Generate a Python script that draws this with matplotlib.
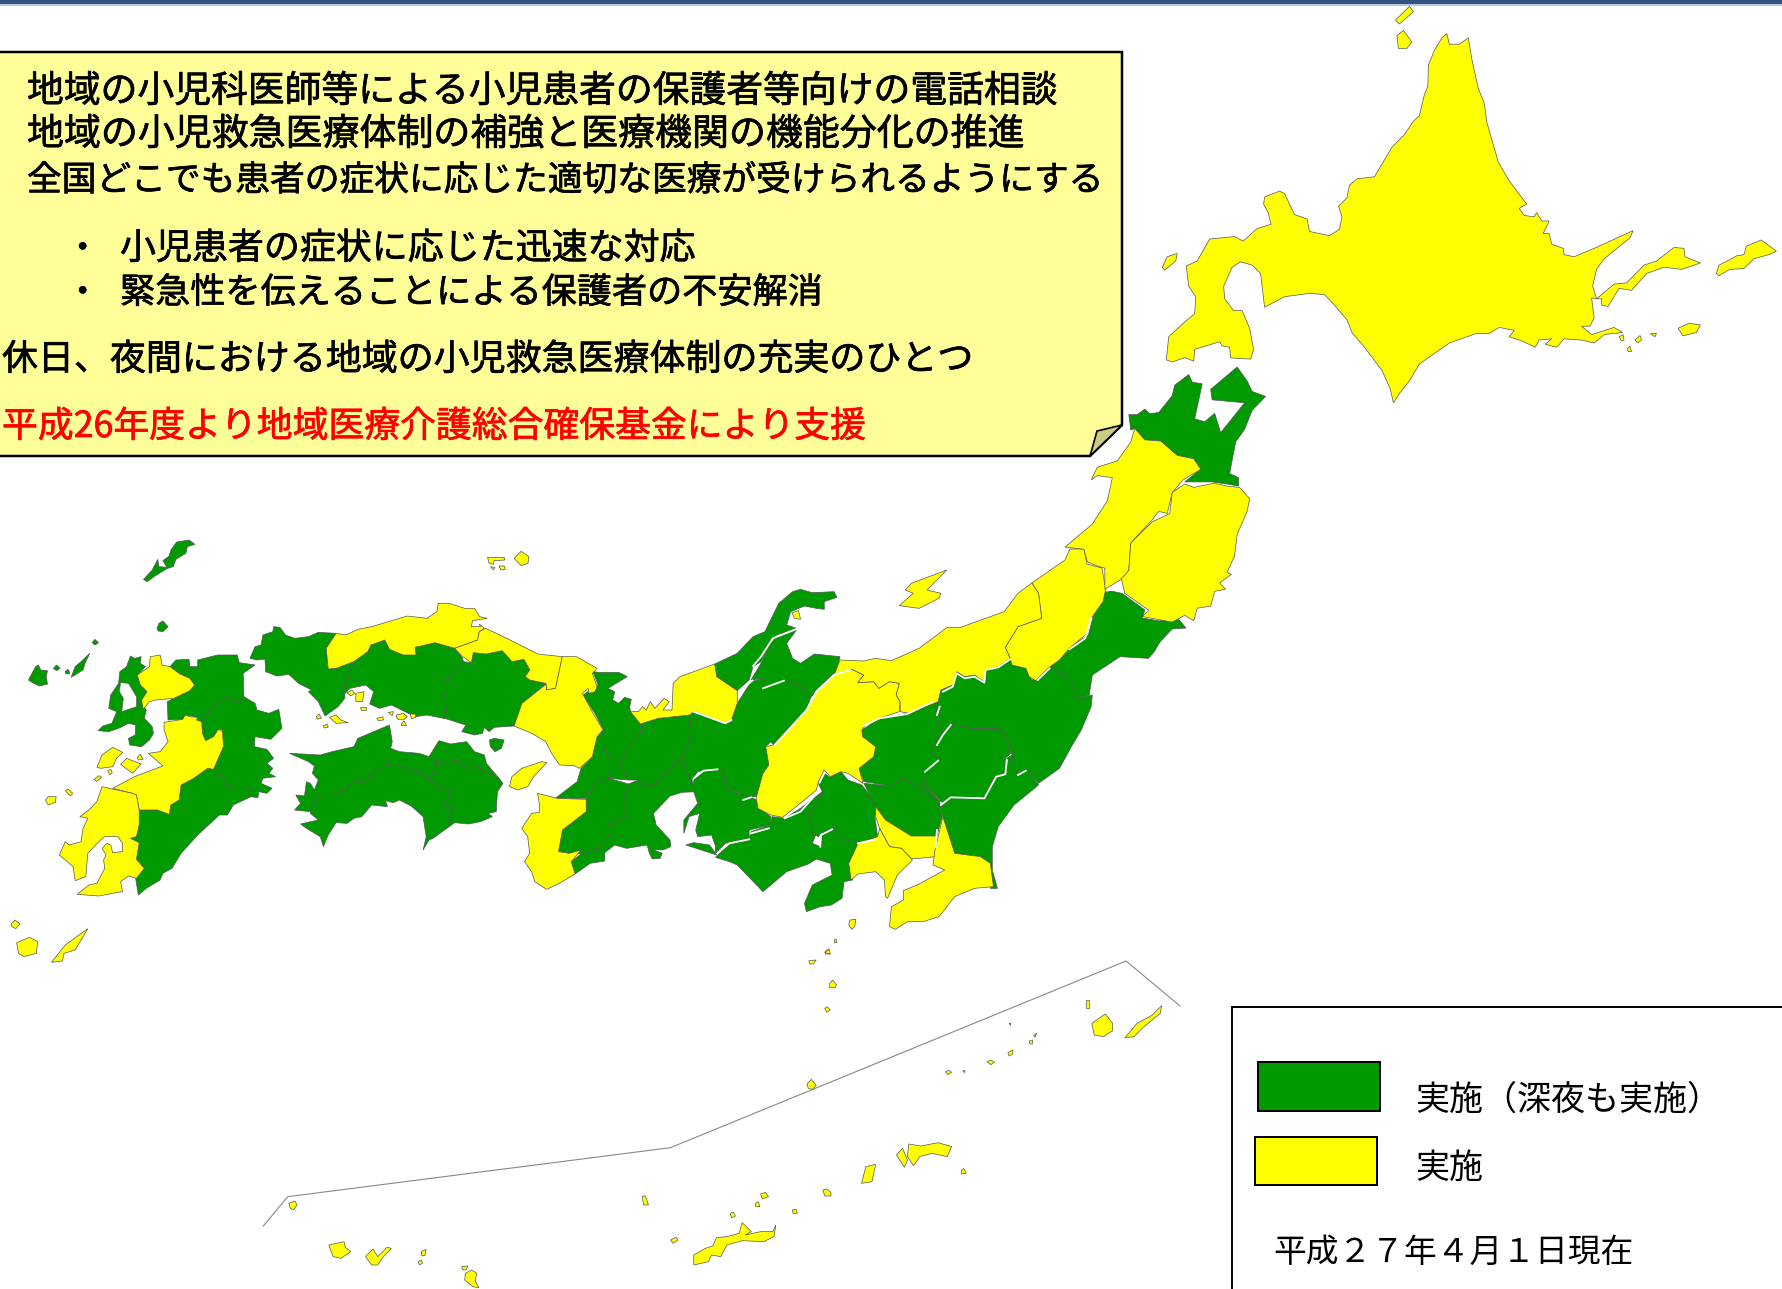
import matplotlib
matplotlib.use('Agg')
import matplotlib.pyplot as plt
import matplotlib.patheffects as pe
from matplotlib.patches import Polygon, Rectangle

plt.rcParams['font.family'] = ['Noto Sans CJK JP', 'DejaVu Sans']

GREEN = '#009900'
YELLOW = '#FFFF00'

# outlines read off the reference crops, each list in the units of its crop
# west = Kyushu, Shikoku, west Honshu
west_green = [
    [(363,178),(385,150),(399,118),(402,140),(422,142),(412,122),(428,108),(432,90),(447,66),(478,60),(493,73),(474,80),(470,100),(445,118),(438,140),(422,146),(392,168),(372,185)],
    [(397,325),(402,310),(412,303),(425,320),(412,335),(400,333)],
    [(72,480),(90,440),(97,435),(103,450),(120,452),(117,470),(120,492),(100,498),(85,490)],
    [(135,445),(143,435),(152,445),(143,452)],
    [(165,455),(172,448),(177,460),(167,462)],
    [(233,368),(240,358),(249,368),(240,375)],
    [(180,472),(190,440),(205,425),(227,400),(215,430),(210,450)],
    [(248,632),(260,618),(283,610),(295,575),(275,565),(280,525),(300,490),(303,455),(320,440),(330,408),(340,415),(357,410),(355,430),(368,440),(348,465),(355,495),(372,515),(360,550),(370,570),(365,595),(385,620),(388,640),(378,660),(358,680),(328,675),(325,655),(342,645),(343,615),(325,610),(300,625),(275,635)],
    [(430,440),(445,420),(478,418),(480,440),(500,440),(500,420),(550,405),(600,405),(605,428),(645,435),(615,460),(617,548),(605,548),(572,530),(540,560),(510,605),(497,600),(493,590),(470,585),(465,597),(425,600),(423,545),(440,535),(480,512),(492,495),(480,475),(455,462)],
    [(572,530),(605,548),(617,530),(645,550),(650,570),(680,580),(705,568),(713,625),(685,658),(645,650),(643,680),(675,688),(692,715),(675,730),(690,745),(680,760),(697,770),(665,775),(660,790),(688,805),(675,820),(655,815),(652,833),(635,830),(635,805),(575,800),(565,770),(540,748),(565,680),(563,630),(552,628),(540,650),(520,662),(512,640),(510,605),(540,560)],
    [(352,870),(398,870),(428,883),(432,855),(453,840),(458,795),(490,775),(525,745),(540,748),(565,770),(575,800),(635,805),(635,830),(590,855),(575,885),(555,885),(500,945),(458,1000),(435,1045),(412,1060),(405,1080),(370,1105),(350,1125),(343,1075),(365,1045),(345,1018),(352,968),(330,955),(345,950),(352,915)],
    [(632,415),(645,380),(660,375),(665,345),(690,335),(692,320),(708,322),(722,345),(745,355),(780,350),(805,337),(850,340),(825,385),(830,447),(850,445),(895,425),(885,450),(880,480),(872,490),(872,535),(855,560),(822,588),(805,545),(780,515),(788,510),(755,490),(730,463),(700,468),(672,455),(670,417),(650,420)],
    [(895,425),(930,395),(938,375),(973,360),(985,388),(1020,405),(1052,405),(1050,382),(1100,368),(1150,385),(1170,415),(1172,425),(1128,485),(1125,530),(1130,575),(1122,595),(1080,585),(1050,590),(990,555),(960,565),(935,552),(945,515),(925,495),(885,505),(873,520),(872,490),(880,480),(885,450)],
    [(1172,425),(1192,428),(1197,398),(1230,402),(1270,392),(1295,425),(1325,418),(1340,450),(1328,470),(1340,480),(1382,490),(1320,550),(1300,618),(1250,622),(1237,635),(1225,622),(1220,640),(1200,645),(1168,635),(1178,615),(1130,597),(1122,595),(1130,575),(1125,530),(1128,485)],
    [(1238,660),(1250,655),(1275,660),(1268,685),(1252,695),(1240,680)],
    [(732,700),(810,705),(840,695),(895,680),(905,655),(985,615),(992,665),(988,685),(1010,695),(1060,700),(1085,710),(1105,728),(1100,755),(1085,778),(1060,750),(1035,755),(1003,730),(975,735),(915,790),(905,780),(880,800),(850,825),(815,828),(795,848),(785,875),(745,870),(760,850),(748,825),(770,828),(775,785),(785,790),(795,810),(805,780),(790,760),(795,738),(780,725)],
    [(785,875),(795,848),(815,828),(850,825),(880,800),(905,780),(915,790),(975,735),(1003,730),(1035,755),(1060,750),(1085,778),(1115,805),(1143,812),(1122,855),(1145,865),(1130,925),(1095,955),(1085,960),(1070,990),(1078,950),(1070,890),(1040,858),(1010,840),(995,848),(975,842),(980,860),(940,855),(915,890),(895,895),(878,910),(850,908),(830,945),(818,980),(810,950),(775,925),(760,912),(805,900),(785,880)],
    [(1085,710),(1110,662),(1140,672),(1180,665),(1200,695),(1225,705),(1230,730),(1262,775),(1205,740),(1185,745),(1155,722),(1105,728)],
    [(1105,728),(1155,722),(1185,745),(1205,740),(1262,775),(1272,790),(1258,815),(1255,875),(1235,880),(1245,890),(1215,905),(1185,912),(1150,908),(1130,925),(1145,865),(1122,855),(1143,812),(1115,805),(1085,778),(1100,755)],
]
west_yellow = [
    [(347,465),(378,440),(380,410),(405,405),(410,435),(430,440),(455,462),(480,475),(492,495),(480,512),(440,535),(395,540),(378,545),(362,568),(358,540),(372,515),(355,495)],
    [(415,607),(462,598),(468,585),(480,590),(500,592),(497,600),(510,605),(512,640),(520,662),(540,650),(552,628),(563,635),(565,680),(540,748),(525,745),(490,775),(458,795),(453,840),(432,855),(428,883),(398,870),(352,870),(345,825),(335,820),(285,805),(340,770),(412,738),(375,700),(405,695),(425,665),(415,630)],
    [(258,800),(335,820),(345,825),(352,870),(352,915),(345,950),(330,955),(352,968),(345,1018),(365,1045),(345,1075),(325,1068),(305,1085),(310,1115),(285,1120),(250,1128),(195,1123),(225,1095),(245,1090),(265,1045),(262,1020),(268,1005),(258,985),(270,970),(280,975),(285,998),(310,995),(310,970),(298,950),(265,950),(250,965),(222,1000),(217,1070),(190,1082),(185,1040),(150,1005),(165,965),(175,975),(205,965),(210,925),(222,895),(202,890),(225,870),(245,845)],
    [(245,742),(258,705),(285,682),(310,697),(295,715),(285,740),(255,745)],
    [(305,733),(320,715),(357,732),(335,760)],
    [(347,712),(355,703),(362,718),(350,720)],
    [(272,752),(280,748),(284,758),(278,764)],
    [(238,778),(250,767),(257,772),(245,784)],
    [(165,812),(172,807),(184,820),(178,828)],
    [(115,840),(122,830),(142,830),(140,847),(122,855)],
    [(28,1212),(38,1200),(50,1212),(40,1226),(30,1220)],
    [(42,1268),(75,1252),(95,1265),(92,1300),(60,1310),(47,1300)],
    [(130,1327),(165,1275),(222,1226),(205,1260),(190,1290),(162,1300),(158,1323)],
    [(1233,112),(1275,112),(1277,120),(1250,122),(1247,133),(1237,130)],
    [(1300,115),(1318,94),(1338,110),(1335,130),(1318,137)],
    [(1240,140),(1252,142),(1248,150)],
    [(1262,138),(1275,138),(1278,148),(1267,150)],
    [(850,340),(875,345),(905,328),(940,320),(1030,288),(1080,295),(1105,275),(1108,250),(1135,250),(1175,265),(1200,265),(1213,290),(1232,295),(1195,302),(1192,320),(1215,320),(1212,312),(1225,325),(1212,335),(1208,360),(1150,385),(1100,368),(1050,382),(1052,405),(1020,405),(985,388),(973,360),(938,375),(930,395),(895,425),(850,445),(830,447),(825,385)],
    [(1150,385),(1208,360),(1212,335),(1228,325),(1255,340),(1290,360),(1360,402),(1422,410),(1405,505),(1382,510),(1380,490),(1340,480),(1328,470),(1340,450),(1325,418),(1295,425),(1270,392),(1230,402),(1197,398),(1192,428),(1170,410)],
    [(1422,410),(1458,410),(1510,445),(1498,460),(1510,500),(1505,515),(1490,520),(1487,505),(1473,520),(1500,580),(1525,630),(1510,650),(1498,710),(1465,745),(1452,737),(1415,735),(1395,700),(1380,665),(1345,640),(1300,618),(1320,550),(1382,492),(1382,510),(1405,505)],
    [(878,518),(890,510),(897,520),(887,528)],
    [(900,520),(920,515),(917,545),(900,545)],
    [(910,560),(925,560),(925,570),(912,570)],
    [(800,590),(807,582),(813,595),(802,597)],
    [(833,592),(850,585),(862,600),(880,608),(850,610)],
    [(817,618),(828,612),(830,622),(820,624)],
    [(953,595),(968,590),(970,600),(957,602)],
    [(982,577),(995,575),(992,587)],
    [(1002,585),(1020,580),(1030,590),(1020,600),(1005,597)],
    [(1038,582),(1050,582),(1052,592),(1040,596)],
    [(1015,612),(1022,603),(1028,617),(1015,617)],
]
omura_bay = [(305,488),(325,490),(345,530),(345,560),(308,575),(312,535),(302,515)]

# central = Kinki east to Tohoku south
central_green = [
    [(235,335),(250,337),(300,337),(322,350),(273,385),(290,395),(285,420),(300,430),(315,412),(332,418),(328,440),(330,455),(355,492),(355,520),(335,545),(305,610),(325,660),(275,655),(278,590),(258,565),(255,530),(262,510),(240,460),(210,405),(222,395),(235,400),(248,375)],
    [(262,510),(255,530),(258,565),(278,590),(275,655),(240,672),(218,715),(140,715),(195,665),(205,625),(235,590),(240,530)],
    [(218,718),(240,672),(275,655),(325,672),(312,730),(325,770),(280,790),(275,830),(245,870),(205,882),(175,880),(148,875),(158,810),(218,755)],
    [(355,492),(400,475),(480,465),(485,525),(460,595),(430,625),(400,668),(370,678),(350,660),(325,660),(305,610),(335,545),(355,520)],
    [(325,672),(350,660),(370,678),(400,668),(430,625),(460,595),(480,660),(497,695),(460,697),(430,708),(388,760),(395,795),(430,840),(432,860),(412,870),(385,868),(410,880),(405,895),(385,897),(378,880),(372,855),(320,865),(290,855),(265,878),(265,903),(228,910),(190,942),(180,905),(205,882),(245,870),(275,830),(280,790),(325,770),(312,730)],
    [(543,312),(600,280),(640,230),(670,215),(705,130),(740,95),(760,88),(790,98),(845,95),(852,112),(820,125),(820,148),(800,145),(770,138),(735,155),(725,195),(750,205),(700,225),(680,250),(660,305),(640,320),(630,360),(600,392),(548,350)],
    [(750,210),(725,250),(740,295),(760,310),(795,282),(860,290),(850,335),(840,345),(800,390),(785,415),(778,410),(760,378),(720,362),(665,385),(665,355),(635,360),(660,310),(680,255),(700,230)],
    [(480,465),(490,458),(570,490),(585,485),(600,430),(635,365),(665,355),(665,385),(720,362),(760,378),(785,415),(775,450),(695,560),(685,545),(672,560),(680,610),(665,650),(650,710),(635,710),(615,720),(608,700),(570,685),(565,635),(530,628),(500,635),(485,660),(497,695),(480,660),(460,595),(485,525)],
    [(490,660),(510,635),(550,628),(565,635),(570,685),(610,703),(635,712),(650,720),(655,745),(685,770),(685,795),(630,810),(630,835),(570,850),(545,880),(545,858),(535,825),(500,830),(495,810),(505,760),(478,770),(465,820),(465,780),(500,730),(490,695)],
    [(470,855),(490,848),(530,855),(548,885)],
    [(545,892),(580,850),(630,835),(635,815),(685,795),(688,770),(720,775),(760,745),(815,695),(780,775),(800,820),(790,850),(810,860),(815,815),(845,805),(850,830),(905,850),(882,910),(892,960),(870,965),(865,1015),(838,1035),(810,1040),(775,1055),(770,1030),(790,975),(840,945),(835,910),(800,897),(780,912),(725,935),(665,995),(600,915),(580,905)],
    [(820,640),(835,652),(862,635),(880,660),(915,675),(955,735),(948,770),(955,830),(905,850),(850,830),(845,805),(815,815),(805,830),(790,820),(780,775),(815,695),(805,670)],
    [(920,670),(990,678),(1018,655),(1060,680),(1112,725),(1118,770),(1105,828),(1040,828),(1002,800),(975,780),(950,740)],
    [(1130,715),(1140,712),(1200,712),(1225,715),(1250,650),(1278,645),(1282,595),(1295,585),(1300,635),(1320,640),(1330,630),(1340,635),(1362,675),(1300,735),(1260,800),(1245,860),(1245,930),(1258,985),(1240,985),(1240,910),(1215,890),(1150,880),(1120,770),(1115,740)],
    [(915,510),(960,475),(1020,462),(1110,425),(1105,470),(1118,515),(1100,550),(1095,580),(1110,600),(1070,637),(1075,675),(1112,725),(1060,680),(1018,655),(990,678),(920,665),(908,625),(945,590),(950,560),(917,530)],
    [(1118,515),(1140,493),(1200,505),(1260,505),(1280,530),(1292,580),(1278,595),(1278,640),(1250,650),(1225,715),(1200,712),(1140,712),(1128,730),(1115,725),(1075,675),(1070,637),(1110,600),(1095,580),(1100,550)],
    [(1105,430),(1115,390),(1145,375),(1155,335),(1175,350),(1200,345),(1225,365),(1230,330),(1260,320),(1290,295),(1295,315),(1330,325),(1345,360),(1370,350),(1395,315),(1420,340),(1450,370),(1460,415),(1498,405),(1495,440),(1470,510),(1445,560),(1415,625),(1362,670),(1340,635),(1330,630),(1320,640),(1300,635),(1295,585),(1280,530),(1260,505),(1200,505),(1140,493),(1118,515),(1105,470)],
    [(1395,318),(1435,265),(1488,225),(1500,170),(1532,90),(1573,100),(1631,150),(1624,174),(1669,183),(1707,165),(1735,204),(1700,207),(1669,246),(1654,276),(1640,295),(1568,290),(1530,320),(1498,345),(1490,405),(1460,415),(1450,370),(1420,340)],
]
central_yellow = [
    [(95,700),(145,715),(218,718),(218,755),(158,810),(148,875),(175,880),(205,870),(180,905),(190,942),(150,970),(118,988),(88,965),(80,935),(62,905),(75,880),(70,830),(55,805),(80,760),(100,757),(100,735)],
    [(24,680),(30,650),(55,625),(105,605),(118,608),(85,650),(70,680),(45,690)],
    [(330,455),(350,455),(360,440),(370,450),(380,425),(392,445),(415,415),(428,425),(412,450),(435,450),(438,370),(455,350),(543,312),(548,350),(600,392),(600,430),(585,480),(570,490),(490,453),(480,465),(400,475),(355,492)],
    [(738,158),(755,152),(760,178),(745,175)],
    [(800,395),(845,345),(890,328),(920,345),(905,368),(945,365),(958,385),(985,365),(1010,370),(1002,405),(1012,425),(1010,455),(960,475),(925,495),(915,510),(917,530),(950,560),(945,590),(908,625),(918,670),(880,640),(862,635),(835,650),(820,630),(805,665),(800,690),(770,720),(715,772),(685,765),(652,745),(648,712),(665,640),(680,615),(672,560),(690,555),(775,450),(790,420)],
    [(950,740),(975,780),(1002,800),(1040,828),(1105,828),(1100,890),(1060,895),(1040,895),(1015,865),(985,860),(960,805),(950,770)],
    [(960,805),(985,860),(1015,865),(1043,900),(1005,945),(980,1015),(975,1010),(972,960),(950,935),(905,942),(888,960),(882,910),(905,852),(955,830)],
    [(1120,770),(1150,880),(1215,890),(1240,910),(1248,980),(1200,985),(1150,1010),(1110,1070),(1070,1085),(1030,1085),(1000,1108),(985,1100),(990,1040),(1020,1020),(1020,992),(1055,975),(1125,930),(1095,915),(1100,870),(1108,830)],
    [(1345,69),(1429,0),(1441,-33),(1477,-33),(1484,12),(1522,24),(1532,87),(1525,125),(1495,175),(1485,220),(1440,265),(1415,300),(1385,325),(1355,362),(1338,350),(1330,325),(1295,315),(1290,295),(1278,262),(1310,200),(1370,175),(1362,100)],
    [(860,300),(920,303),(950,295),(990,302),(1060,265),(1130,203),(1165,202),(1275,155),(1310,100),(1345,69),(1362,100),(1370,175),(1310,200),(1278,262),(1290,295),(1260,320),(1230,330),(1225,365),(1200,345),(1175,350),(1155,335),(1145,375),(1115,390),(1108,425),(1035,460),(1012,455),(1012,425),(1002,405),(1010,370),(985,365),(958,385),(945,365),(905,368),(920,345),(890,328),(845,345)],
    [(1010,137),(1045,100),(1025,90),(1040,70),(1130,30),(1080,90),(1115,100),(1110,115),(1060,145)],
    [(882,1095),(885,1080),(900,1078),(897,1100),(890,1108)],
    [(845,1140),(850,1137),(852,1148),(846,1148)],
    [(822,1175),(830,1168),(835,1182),(823,1182)],
]
# white slivers left between neighbouring prefectures
central_gaps = [
    [(640,318),(660,290),(690,235),(750,207)],
    [(605,395),(638,362)],
    [(490,455),(570,490),(585,480)],
    [(665,385),(718,362)],
    [(695,555),(775,450),(800,395),(845,345),(885,330)],
    [(920,497),(960,475),(1030,462),(1095,425)],
    [(1105,465),(1112,440)],
    [(1120,395),(1145,380),(1155,340),(1175,355),(1200,350),(1225,368),(1228,330),(1260,322),(1290,298)],
    [(1360,360),(1390,325)],
    [(1440,268),(1480,235),(1495,175)],
    [(1535,92),(1568,85)],
    [(490,655),(515,632),(550,628)],
    [(615,720),(635,712)],
    [(720,775),(760,755),(805,695)],
    [(808,668),(820,640)],
    [(635,820),(680,805)],
    [(550,880),(580,850),(630,838)],
    [(810,860),(812,825),(840,808)],
    [(905,850),(950,838)],
    [(1105,555),(1120,525),(1140,495)],
    [(1075,635),(1108,602)],
    [(1115,735),(1140,712),(1225,715),(1255,650),(1278,643),(1282,600)],
    [(1310,645),(1330,632)],
    [(1105,810),(1102,860)],
]

# north = Hokkaido and north Tohoku
north_green = [
    [(258,985),(275,985),(290,972),(300,983),(318,980),(345,940),(350,915),(378,890),(385,908),(405,912),(390,995),(410,1002),(430,982),(442,1028),(490,957),(425,950),(422,925),(475,872),(495,905),(505,930),(532,942),(505,975),(490,1020),(472,1050),(460,1125),(478,1135),(478,1155),(455,1150),(425,1145),(370,1145),(402,1115),(388,1090),(355,1082),(322,1048),(290,1045),(270,1018),(262,1022)],
]
north_yellow = [
    [(895,80),(900,105),(920,105),(938,90),(945,140),(958,210),(970,245),(975,290),(998,385),(1020,430),(1055,485),(1040,495),(1050,512),(1070,515),(1075,505),(1085,525),(1100,525),(1088,555),(1100,555),(1105,580),(1128,590),(1130,605),(1150,610),(1200,585),(1268,548),(1262,565),(1210,615),(1195,640),(1187,680),(1195,710),(1185,708),(1190,755),(1182,775),(1165,775),(1185,795),(1230,778),(1247,790),(1210,795),(1190,815),(1165,808),(1130,805),(1115,825),(1092,818),(1105,805),(1080,808),(1072,825),(1045,810),(1020,800),(1030,785),(1000,778),(980,792),(955,792),(900,815),(840,865),(820,905),(800,935),(788,957),(782,925),(765,880),(730,825),(705,790),(695,760),(670,725),(650,700),(620,697),(570,705),(530,730),(525,680),(522,650),(505,630),(482,622),(465,635),(448,680),(450,710),(468,738),(485,738),(500,780),(508,830),(502,853),(480,852),(462,850),(460,825),(445,822),(440,812),(390,830),(388,858),(370,850),(345,860),(333,855),(338,800),(370,765),(390,745),(392,705),(378,680),(373,632),(395,620),(420,568),(470,562),(487,573),(515,543),(543,533),(537,505),(528,485),(530,468),(560,454),(570,460),(590,510),(615,520),(620,550),(660,560),(680,545),(685,515),(678,490),(695,470),(700,440),(715,425),(750,420),(785,350),(810,320),(828,288),(840,275),(850,225),(857,205),(858,155),(870,120),(885,90)],
    [(1195,710),(1230,675),(1255,672),(1290,630),(1315,620),(1350,588),(1370,590),(1372,610),(1403,625),(1365,640),(1330,635),(1295,650),(1265,690),(1240,685),(1218,728),(1205,725),(1205,710)],
    [(1435,650),(1440,630),(1465,615),(1475,608),(1490,605),(1495,585),(1525,570),(1555,597),(1540,605),(1510,615),(1490,638),(1462,640),(1440,655)],
    [(1358,780),(1380,768),(1403,772),(1395,790),(1368,798)],
    [(1240,800),(1248,795),(1250,808),(1245,810)],
    [(1272,808),(1282,797),(1285,808),(1277,815)],
    [(1303,793),(1315,792),(1312,800)],
    [(1257,828),(1262,823),(1265,835),(1258,835)],
    [(795,85),(808,72),(825,100),(815,115),(798,115)],
    [(792,48),(820,15),(828,28),(800,57)],
    [(325,635),(335,610),(355,602),(352,620),(330,642)],
    [(270,1018),(290,1045),(322,1048),(355,1082),(388,1090),(402,1115),(367,1140),(345,1170),(335,1220),(318,1215),(305,1235),(262,1290),(258,1355),(245,1375),(210,1400),(210,1350),(195,1345),(175,1335),(168,1305),(130,1300),(185,1245),(215,1190),(225,1135),(195,1130),(183,1140),(195,1110),(235,1095),(262,1050)],
    [(370,1150),(388,1158),(430,1148),(455,1155),(480,1158),(500,1185),(495,1215),(475,1270),(470,1320),(455,1360),(463,1365),(440,1385),(452,1400),(430,1405),(422,1440),(395,1445),(388,1475),(370,1462),(345,1478),(285,1465),(298,1450),(250,1410),(243,1375),(258,1355),(262,1290),(305,1240),(340,1220),(345,1170)],
]

# south = Nansei and Izu islands
south_yellow = [
    [(955,38),(962,27),(964,42)],
    [(929,62),(941,60),(936,72),(930,72)],
    [(963,130),(968,120),(974,135),(972,143),(963,143)],
    [(955,205),(959,200),(964,210),(958,217)],
    [(926,432),(933,418),(941,436),(935,448),(928,445)],
    [(1381,180),(1386,180),(1386,204),(1382,204)],
    [(1391,250),(1413,222),(1425,250),(1425,272),(1410,290),(1395,285)],
    [(1445,293),(1465,250),(1490,225),(1505,197),(1503,220),(1475,262),(1460,290)],
    [(1256,250),(1259,250),(1258,256)],
    [(1296,285),(1301,280),(1298,292)],
    [(1289,303),(1294,300),(1294,312),(1290,312)],
    [(1254,338),(1262,330),(1262,342),(1256,348)],
    [(1220,365),(1226,360),(1232,367),(1226,374)],
    [(1152,395),(1158,391),(1162,397),(1156,404)],
    [(1180,392),(1184,392),(1183,398)],
    [(1082,625),(1090,660),(1085,682),(1072,645)],
    [(1092,612),(1112,618),(1140,608),(1162,620),(1155,650),(1130,640),(1110,650),(1100,677),(1090,650)],
    [(1015,730),(1022,680),(1038,673),(1032,725)],
    [(1178,690),(1182,686),(1186,700),(1178,702)],
    [(952,750),(958,747),(965,757),(965,768),(955,768)],
    [(657,770),(662,767),(667,795),(659,795)],
    [(850,762),(858,757),(863,770),(853,777)],
    [(842,790),(846,785),(849,800),(842,800)],
    [(800,820),(806,817),(809,828),(803,834)],
    [(902,810),(908,808),(910,820),(903,820)],
    [(703,900),(712,892),(715,900),(707,910)],
    [(741,945),(760,925),(772,918),(778,893),(795,890),(815,880),(820,848),(835,875),(825,885),(850,875),(870,875),(875,855),(872,890),(855,905),(820,902),(795,915),(785,950),(770,945),(765,965),(741,975)],
    [(145,915),(170,905),(172,922),(181,935),(165,955),(152,950)],
    [(205,950),(217,927),(225,950),(240,922),(247,925),(232,955),(225,975),(215,975)],
    [(80,790),(90,783),(93,795),(87,810),(82,805)],
    [(296,935),(304,928),(302,947),(297,947)],
    [(291,965),(296,960),(298,970),(293,975)],
    [(362,980),(372,978),(369,990),(364,990)],
    [(368,1000),(378,990),(387,1000),(384,1022),(390,1043),(380,1040),(367,1020)],
]
inset_line = [(38,858),(78,770),(703,623),(1447,63),(1535,198)]

note_lines = [
    ('地域の小児科医師等による小児患者の保護者等向けの電話相談', 27, 91.5, 26.5, 'black'),
    ('地域の小児救急医療体制の補強と医療機関の機能分化の推進', 27, 134.5, 26.6, 'black'),
    ('全国どこでも患者の症状に応じた適切な医療が受けられるようにする', 27, 181, 25, 'black'),
    ('・', 66, 249, 24, 'black'),
    ('小児患者の症状に応じた迅速な対応', 120, 249, 25.9, 'black'),
    ('・', 66, 293, 24, 'black'),
    ('緊急性を伝えることによる保護者の不安解消', 120, 293, 25.3, 'black'),
    ('休日、夜間における地域の小児救急医療体制の充実のひとつ', 2, 360, 25.9, 'black'),
    ('平成26年度より地域医療介護総合確保基金により支援', 2, 427, 25.8, '#FF0000'),
]
legend_labels = ['実施（深夜も実施）', '実施']
date_label = '平成２７年４月１日現在'

# crop origin and scale of each group: x0, y0, sx, sy
WEST = (0, 520, 2.529, 3)
CENTRAL = (500, 560, 2.529, 3)
NORTH = (1000, 0, 2.003, 2.376)
SOUTH = (240, 940, 1.633, 3)


def to_px(pts, crop):
    x0, y0, sx, sy = crop
    return [(x0 + x / sx, y0 + y / sy) for x, y in pts]


def draw_land(ax, shapes, crop, color):
    for s in shapes:
        ax.add_patch(Polygon(to_px(s, crop), closed=True, facecolor=color,
                             edgecolor='#555555', linewidth=0.5, zorder=2))


fig = plt.figure(figsize=(17.83, 12.89), dpi=100)
ax = fig.add_axes([0, 0, 1, 1])
ax.set_xlim(0, 1783)
ax.set_ylim(1289, 0)
ax.axis('off')

# top band
ax.add_patch(Rectangle((0, 0), 1783, 4, facecolor='#2F5283', edgecolor='none', zorder=5))
ax.add_patch(Rectangle((0, 4), 1783, 1.5, facecolor='#B9C9DC', edgecolor='none', zorder=5))

draw_land(ax, central_green, CENTRAL, GREEN)
draw_land(ax, central_yellow, CENTRAL, YELLOW)
for g in central_gaps:
    gx, gy = zip(*to_px(g, CENTRAL))
    ax.plot(gx, gy, color='white', linewidth=1.3, zorder=3)
draw_land(ax, west_green, WEST, GREEN)
draw_land(ax, west_yellow, WEST, YELLOW)
ax.add_patch(Polygon(to_px(omura_bay, WEST), closed=True, facecolor='white',
                     edgecolor='#555555', linewidth=0.4, zorder=3))
draw_land(ax, north_green, NORTH, GREEN)
draw_land(ax, north_yellow, NORTH, YELLOW)
draw_land(ax, south_yellow, SOUTH, YELLOW)

lx, ly = zip(*to_px(inset_line, SOUTH))
ax.plot(lx, ly, color='#888888', linewidth=0.8, zorder=1)

# note box with turned corner
ax.add_patch(Polygon([(-10, 52), (1122, 52), (1122, 425), (1090, 456), (-10, 456)],
                     closed=True, facecolor='#FFFF99', edgecolor='black',
                     linewidth=1.8, zorder=6))
ax.add_patch(Polygon([(1090, 456), (1097, 431), (1122, 425)], closed=True,
                     facecolor='#CCCC80', edgecolor='black', linewidth=1.2, zorder=7))
for txt, x, y, size, col in note_lines:
    t = ax.text(x, y, txt, fontsize=size, color=col, va='center', ha='left', zorder=8)
    t.set_path_effects([pe.withStroke(linewidth=0.5, foreground=col)])

# legend box runs off the page
ax.add_patch(Rectangle((1232, 1007), 600, 400, facecolor='white', edgecolor='black',
                       linewidth=1.4, zorder=6))
ax.add_patch(Rectangle((1258, 1062), 122, 49, facecolor=GREEN, edgecolor='black',
                       linewidth=1.4, zorder=7))
ax.add_patch(Rectangle((1255, 1137), 122, 48, facecolor=YELLOW, edgecolor='black',
                       linewidth=1.4, zorder=7))
ax.text(1415, 1100, legend_labels[0], fontsize=24.5, va='center', ha='left', zorder=8)
ax.text(1415, 1168, legend_labels[1], fontsize=24.5, va='center', ha='left', zorder=8)
ax.text(1273, 1253, date_label, fontsize=23.6, va='center', ha='left', zorder=8)

fig.savefig('out.png', dpi=100)
